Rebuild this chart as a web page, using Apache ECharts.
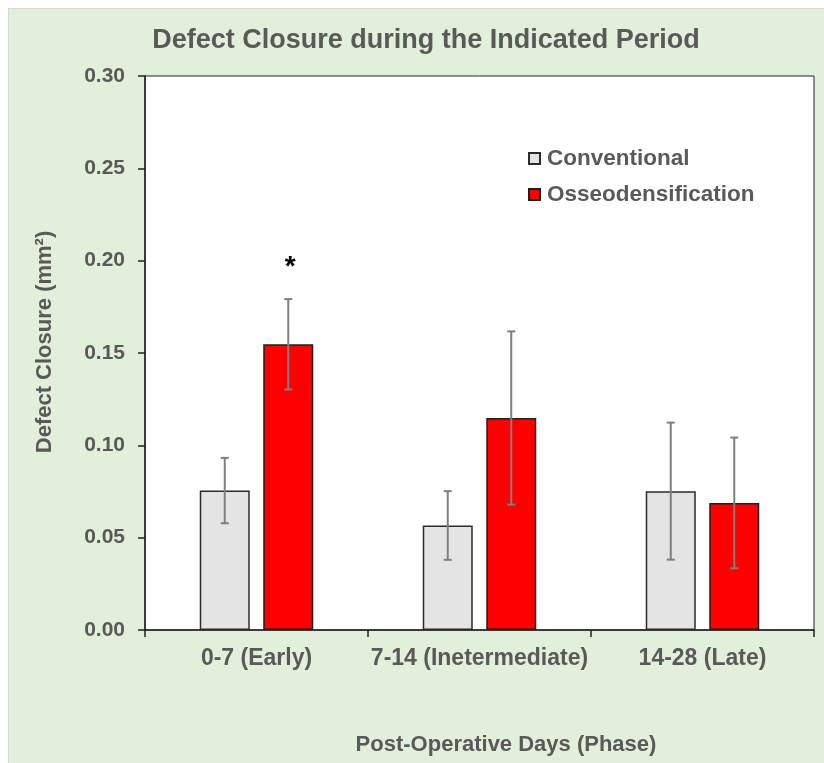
<!DOCTYPE html>
<html>
<head>
<meta charset="utf-8">
<script src="https://cdn.jsdelivr.net/npm/echarts@6/dist/echarts.min.js"></script>
<style>
  html, body { margin: 0; padding: 0; background: #fff; }
  #frame { position: absolute; left: 8px; top: 8px; width: 816px; height: 755px; background: #e2efda; border-left: 1px solid #d3d9d0; border-top: 1px solid #d3d9d0; box-sizing: border-box; }
  #chart { position: absolute; left: 0; top: 0; width: 824px; height: 763px; }
</style>
</head>
<body>
<div id="frame"></div>
<div id="chart"></div>
<script>
// values
const categories = ['0-7 (Early)', '7-14 (Inetermediate)', '14-28 (Late)'];
const conventional = [0.0755, 0.0566, 0.0752];
const conventionalErr = [0.0177, 0.0186, 0.0371];
const osseo = [0.1547, 0.1148, 0.0688];
const osseoErr = [0.0245, 0.0469, 0.0354];
const significance = ['*', '', ''];
const yMin = 0, yMax = 0.3, yStep = 0.05;

const FONT = '"Liberation Sans", Arial, sans-serif';
const TEXT = '#595959';
const BAR_W = 50;
const BAR_GAP = 0.27;

let myChart = echarts.init(document.getElementById('chart'));

function errorSeries(name, values, errs, dir, marks) {
  let offset = dir * BAR_W * (1 + BAR_GAP) / 2;
  return {
    name: name + ' error',
    type: 'custom',
    silent: true,
    z: 5,
    data: values.map((v, i) => [i, v - errs[i], v + errs[i]]),
    renderItem: function (params, api) {
      let idx = params.dataIndex;
      let x = api.coord([api.value(0), 0])[0] + offset;
      let low = api.coord([api.value(0), api.value(1)])[1];
      let high = api.coord([api.value(0), api.value(2)])[1];
      let style = { stroke: '#7f7f7f', lineWidth: 2 };
      let children = [
        { type: 'line', shape: { x1: x, y1: low, x2: x, y2: high }, style: style },
        { type: 'line', shape: { x1: x - 4, y1: low, x2: x + 4, y2: low }, style: style },
        { type: 'line', shape: { x1: x - 4, y1: high, x2: x + 4, y2: high }, style: style }
      ];
      if (marks && marks[idx]) {
        children.push({
          type: 'text',
          style: {
            text: marks[idx], x: x + 2, y: high - 32,
            align: 'center', verticalAlign: 'middle',
            font: 'bold 28px ' + FONT, fill: '#000'
          }
        });
      }
      return { type: 'group', children: children };
    }
  };
}

let option = {
  backgroundColor: 'transparent',
  animation: false,
  title: {
    text: 'Defect Closure during the Indicated Period',
    left: 421,
    top: 22,
    textAlign: 'center',
    textStyle: { fontFamily: FONT, fontSize: 27, fontWeight: 'bold', color: TEXT }
  },
  legend: {
    orient: 'vertical',
    left: 523,
    top: 142,
    itemWidth: 11,
    itemHeight: 11,
    itemGap: 13,
    icon: 'rect',
    data: ['Conventional', 'Osseodensification'],
    textStyle: { fontFamily: FONT, fontSize: 22.5, fontWeight: 'bold', color: TEXT, padding: [0, 0, 0, 2] }
  },
  grid: {
    left: 145,
    right: 10,
    top: 76,
    bottom: 133,
    show: true,
    backgroundColor: '#fff',
    borderColor: '#222',
    borderWidth: 1
  },
  xAxis: {
    type: 'category',
    data: categories,
    name: 'Post-Operative Days (Phase)',
    nameLocation: 'middle',
    nameGap: 104,
    nameTextStyle: { fontFamily: FONT, fontSize: 22, fontWeight: 'bold', color: TEXT, padding: [0, 0, 0, 53] },
    axisLine: { lineStyle: { color: '#222', width: 1.5 } },
    axisTick: { show: true, interval: 0, length: 7, lineStyle: { color: '#222', width: 1.5 } },
    axisLabel: { interval: 0, margin: 17, fontFamily: FONT, fontSize: 23, fontWeight: 'bold', color: TEXT }
  },
  yAxis: {
    type: 'value',
    min: yMin,
    max: yMax,
    interval: yStep,
    name: 'Defect Closure (mm²)',
    nameLocation: 'middle',
    nameGap: 89,
    nameTextStyle: { fontFamily: FONT, fontSize: 22, fontWeight: 'bold', color: TEXT, padding: [0, 0, 0, 22] },
    axisLine: { show: true, lineStyle: { color: '#222', width: 1.5 } },
    axisTick: { show: true, length: 7, lineStyle: { color: '#222', width: 1.5 } },
    splitLine: { show: false },
    axisLabel: {
      margin: 20,
      fontFamily: FONT, fontSize: 21, fontWeight: 'bold', color: TEXT,
      formatter: v => v.toFixed(2)
    }
  },
  series: [
    {
      name: 'Conventional',
      type: 'bar',
      barWidth: BAR_W,
      barGap: (BAR_GAP * 100) + '%',
      itemStyle: { color: '#e4e4e4', borderColor: '#2b2b2b', borderWidth: 1.5 },
      data: conventional
    },
    {
      name: 'Osseodensification',
      type: 'bar',
      barWidth: BAR_W,
      itemStyle: { color: '#ff0000', borderColor: '#1f1f1f', borderWidth: 1.5 },
      data: osseo
    },
    errorSeries('Conventional', conventional, conventionalErr, -1, null),
    errorSeries('Osseodensification', osseo, osseoErr, 1, significance)
  ]
};

myChart.setOption(option);
window.onresize = function () {
  myChart.resize();
};
</script>
</body>
</html>
